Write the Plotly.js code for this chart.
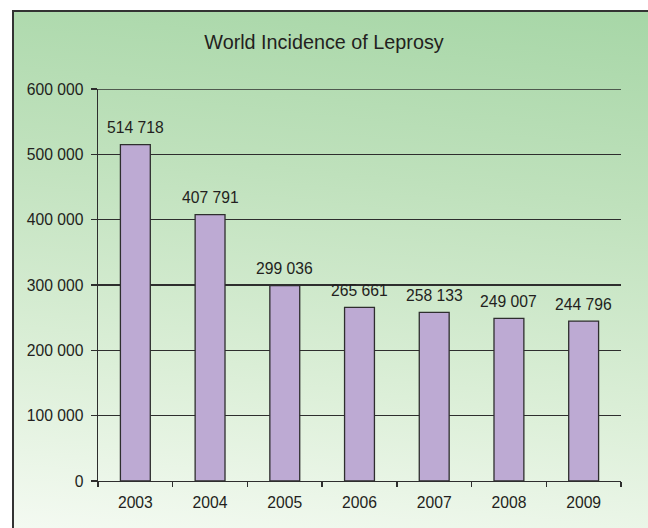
<!DOCTYPE html>
<html>
<head>
<meta charset="utf-8">
<script src="https://cdn.plot.ly/plotly-3.0.1.min.js"></script>
<style>
  html, body { margin: 0; padding: 0; width: 648px; height: 528px; overflow: hidden; background: #ffffff; }
  #frame { position: absolute; left: 12px; top: 10px; width: 700px; height: 600px;
           border: 2px solid #333333;
           background: linear-gradient(186deg, #a6d6a6 0%, #bfe1bc 30%, #dcefd8 62%, #f6fbf4 90%); }
  #chart { position: absolute; left: 0; top: 0; width: 648px; height: 528px; }
</style>
</head>
<body>
<div id="frame"></div>
<div id="chart"></div>
<script>
const years = ['2003', '2004', '2005', '2006', '2007', '2008', '2009'];
const cases = [514718, 407791, 299036, 265661, 258133, 249007, 244796];
const yTicks = [0, 100000, 200000, 300000, 400000, 500000, 600000];

const textColor = '#231f20';
const lineColor = '#2e2e2e';
const fontFam = 'Liberation Sans, Arial, Helvetica, sans-serif';
const fs = 15.7;

const trace = {
  type: 'bar',
  x: years,
  y: cases,
  marker: { color: '#bdaad3', line: { color: lineColor, width: 1.3 } },
  hoverinfo: 'x+y'
};

// category axes address annotations by index
const annotations = years.map((yr, i) => ({
  x: i, y: cases[i], xref: 'x', yref: 'y',
  text: cases[i].toLocaleString('en-US').replace(/,/g, ' '),
  showarrow: false, yanchor: 'middle', yshift: 17,
  font: { family: fontFam, size: fs, color: textColor }
}));

const yMax = yTicks[yTicks.length - 1];

const layout = {
  width: 648, height: 528,
  paper_bgcolor: 'rgba(0,0,0,0)',
  plot_bgcolor: 'rgba(0,0,0,0)',
  separators: ', ',
  margin: { l: 98, r: 27, t: 89, b: 47, autoexpand: false },
  font: { family: fontFam, size: fs, color: textColor },
  title: {
    text: 'World Incidence of Leprosy',
    xref: 'container', x: 0.5, xanchor: 'center',
    yref: 'container', y: 1 - 42 / 528, yanchor: 'middle',
    font: { family: fontFam, size: 19.8, color: textColor }
  },
  bargap: 0.6,
  showlegend: false,
  xaxis: {
    type: 'category',
    range: [-0.5, years.length - 0.5],
    showline: true, linecolor: lineColor, linewidth: 1.3,
    ticks: 'outside', tickson: 'boundaries', ticklen: 5, tickcolor: lineColor, tickwidth: 1.3,
    ticklabelstandoff: 7,
    showgrid: false, zeroline: false,
    tickfont: { family: fontFam, size: fs, color: textColor }
  },
  yaxis: {
    range: [0, yMax],
    tickvals: yTicks,
    tickformat: ',d',
    showline: true, linecolor: lineColor, linewidth: 1.3,
    ticks: 'outside', ticklen: 6, tickcolor: lineColor, tickwidth: 1.3,
    ticklabelstandoff: 4,
    showgrid: true, gridcolor: lineColor, gridwidth: 1.3,
    zeroline: false,
    tickfont: { family: fontFam, size: fs, color: textColor }
  },
  shapes: [{
    type: 'line', xref: 'paper', yref: 'y', x0: 0, x1: 1, y0: yMax, y1: yMax,
    line: { color: lineColor, width: 1.3 }, layer: 'below'
  }],
  annotations: annotations
};

Plotly.newPlot('chart', [trace], layout, { displayModeBar: false, staticPlot: true });
</script>
</body>
</html>
